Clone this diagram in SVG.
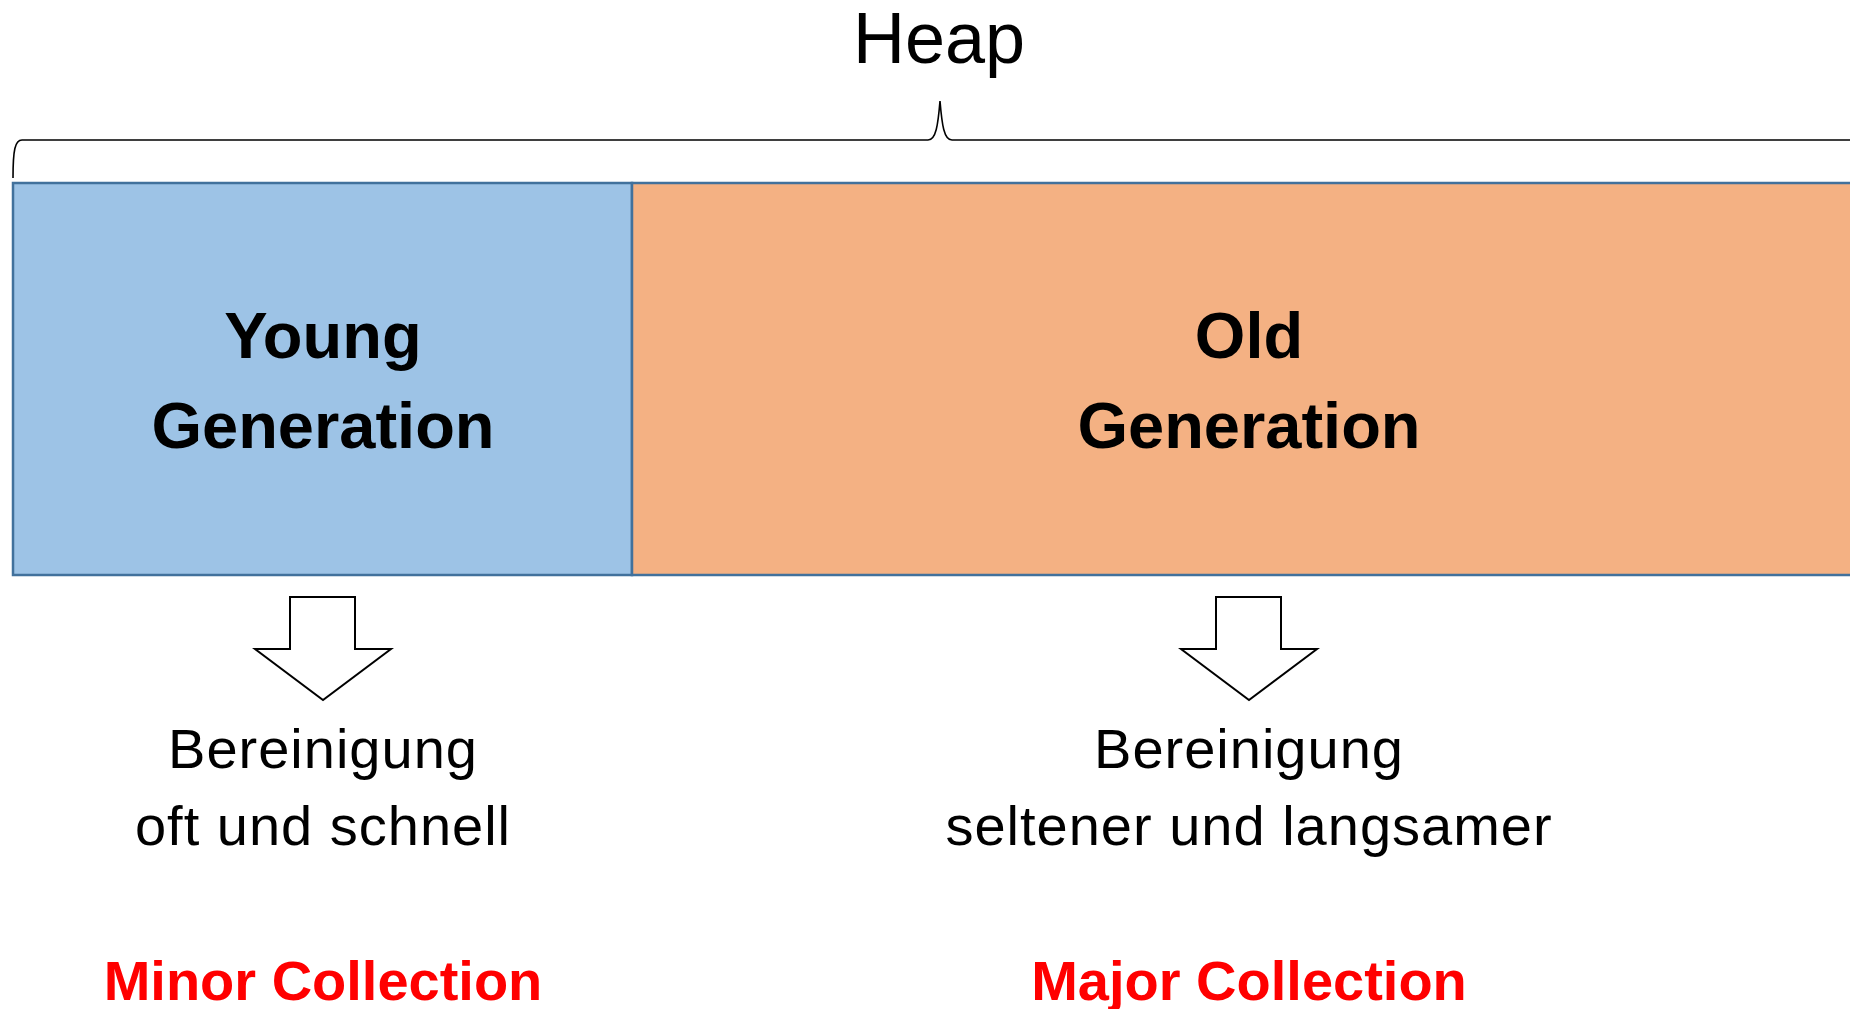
<svg xmlns="http://www.w3.org/2000/svg" width="1850" height="1009" viewBox="0 0 1850 1009">
  <style>
    .title { font-family: "Liberation Sans", Arial, sans-serif; font-size: 72px; fill: #000; text-anchor: middle; }
    .gen { font-family: "Liberation Sans", Arial, sans-serif; font-weight: bold; font-size: 65px; fill: #000; text-anchor: middle; }
    .desc { font-family: "Liberation Sans", Arial, sans-serif; font-size: 56px; letter-spacing: 1px; fill: #000; text-anchor: middle; }
    .kind { font-family: "Liberation Sans", Arial, sans-serif; font-weight: bold; font-size: 56px; fill: #FF0000; text-anchor: middle; }
    .area { stroke: #41719C; stroke-width: 2.5; }
    .brace { fill: none; stroke: #000; stroke-width: 1.6; }
    .down { fill: #fff; stroke: #000; stroke-width: 2; stroke-linejoin: miter; }
  </style>
  <rect width="1850" height="1009" fill="#fff"/>

  <!-- heap label with brace -->
  <g id="heap">
    <text class="title" x="939" y="63">Heap</text>
    <path class="brace" d="M13,178 C13,150 15,140 22,140 L928,140 C936,140 938,125 940,101 C942,125 944,140 952,140 L1852,140"/>
  </g>

  <!-- heap areas -->
  <g id="young">
    <rect class="area" x="13" y="183" width="619" height="392" fill="#9DC3E6"/>
    <text class="gen" x="323" y="358">Young</text>
    <text class="gen" x="323" y="448">Generation</text>
  </g>
  <g id="old">
    <rect class="area" x="632" y="183" width="1230" height="392" fill="#F4B183"/>
    <text class="gen" x="1249" y="358">Old</text>
    <text class="gen" x="1249" y="448">Generation</text>
  </g>

  <!-- block arrows -->
  <g id="connectors">
    <polygon class="down" points="290,597 355,597 355,649 391,649 323,700 255,649 290,649"/>
    <polygon class="down" points="1216,597 1281,597 1281,649 1317,649 1249,700 1181,649 1216,649"/>
  </g>

  <g id="minor">
    <text class="desc" x="323" y="768">Bereinigung</text>
    <text class="desc" x="323" y="845">oft und schnell</text>
    <text class="kind" x="323" y="1000">Minor Collection</text>
  </g>
  <g id="major">
    <text class="desc" x="1249" y="768">Bereinigung</text>
    <text class="desc" x="1249" y="845">seltener und langsamer</text>
    <text class="kind" x="1249" y="1000">Major Collection</text>
  </g>
</svg>
